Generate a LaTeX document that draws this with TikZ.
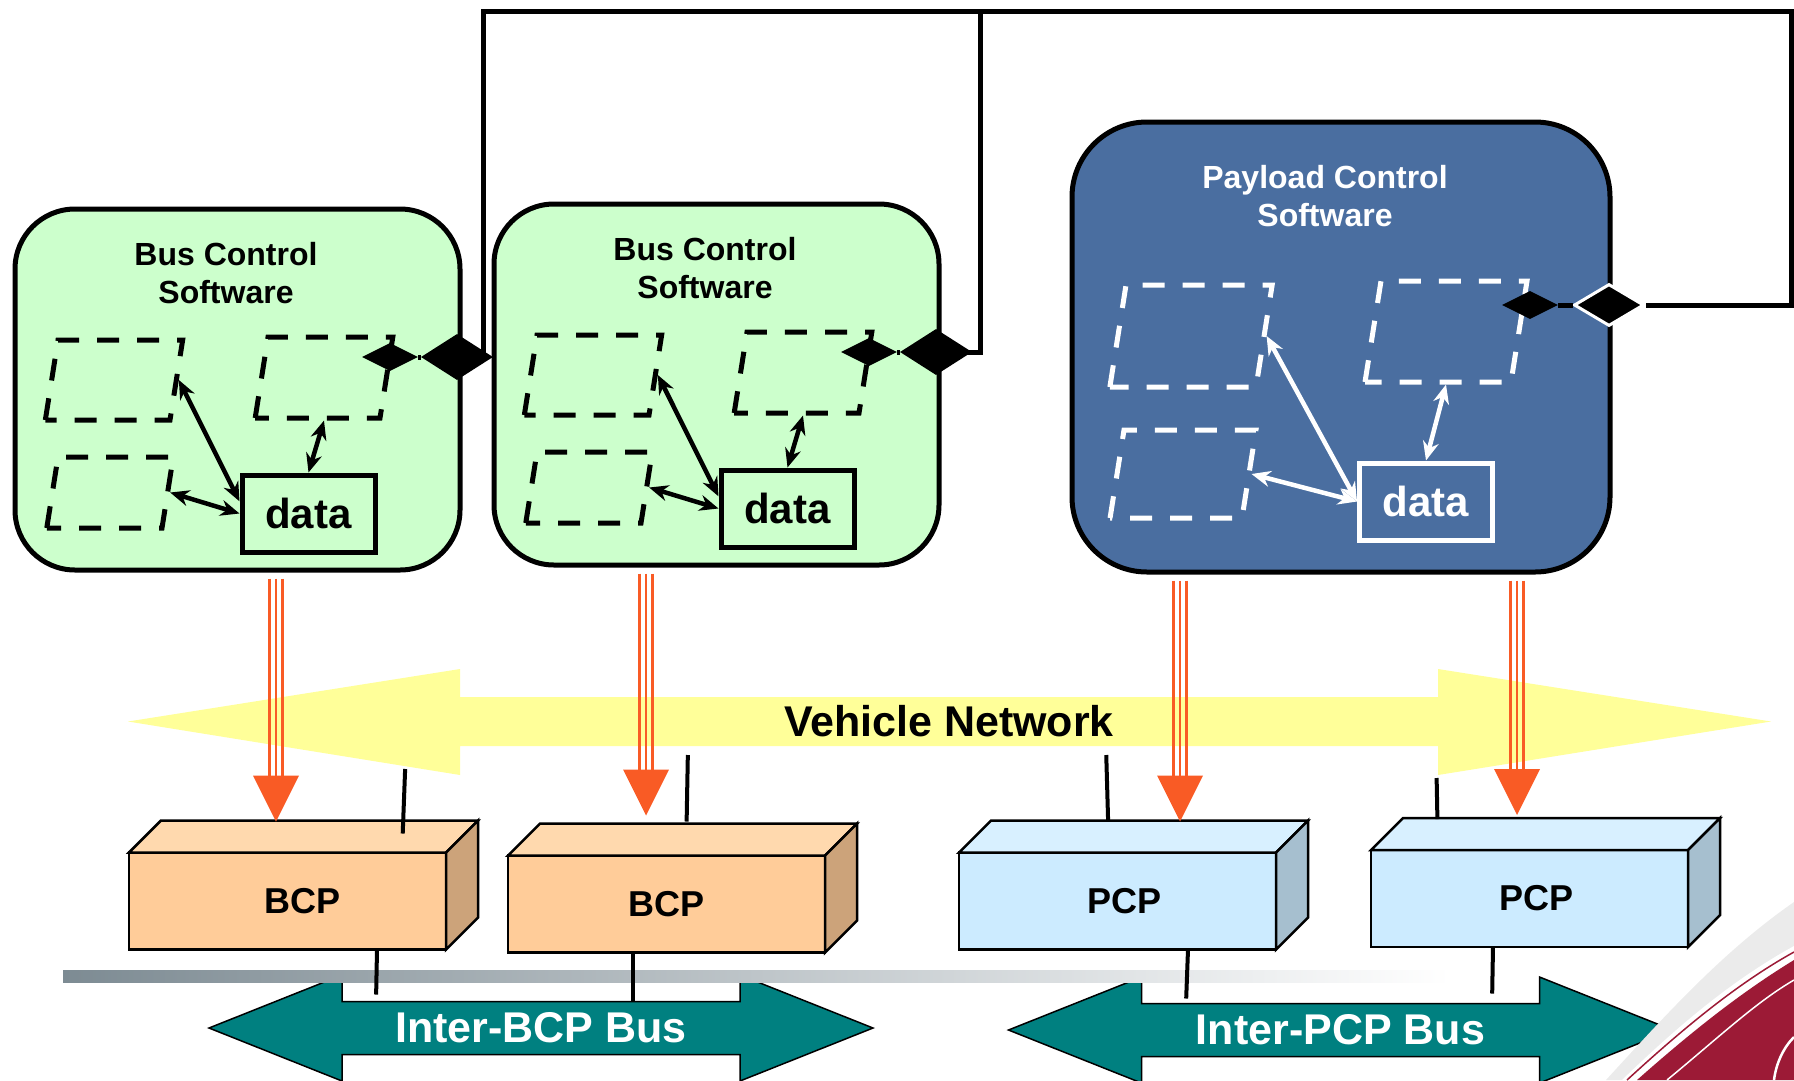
\documentclass[tikz,border=0pt]{standalone}
\usepackage{fontspec}
\setmainfont{Liberation Sans}
\usetikzlibrary{calc}
\usetikzlibrary{arrows.meta}
\usetikzlibrary{shapes.geometric}
\usetikzlibrary{backgrounds}
\definecolor{swgreen}{HTML}{CCFFCC}
\definecolor{pcsblue}{HTML}{4A6EA0}
\definecolor{netyellow}{HTML}{FFFF99}
\definecolor{feedorange}{HTML}{F95B25}
\definecolor{busteal}{HTML}{008080}
\definecolor{bcpfront}{HTML}{FFCC99}
\definecolor{bcptop}{HTML}{FFD9AE}
\definecolor{bcpside}{HTML}{CCA37A}
\definecolor{pcpfront}{HTML}{CCEBFF}
\definecolor{pcptop}{HTML}{D8F0FF}
\definecolor{pcpside}{HTML}{A6BFCF}
\definecolor{barslate}{HTML}{7D8B93}
\definecolor{logored}{HTML}{9C1A36}
\tikzset{
  swbox/.style={draw, line width=5pt, rounded corners=60pt, minimum width=445pt, minimum height=361pt},
  heading/.style={align=center, font=\bfseries\fontsize{32}{38}\selectfont},
  pane/.style={trapezium, trapezium left angle=81, trapezium right angle=99, line width=5pt, dash pattern=on 22pt off 18pt},
  datbox/.style={draw, line width=5pt, minimum width=133pt, minimum height=77pt, inner sep=0pt, font=\bfseries\fontsize{42}{46}\selectfont},
  link/.style={<->, >={Stealth[length=19pt,width=16pt]}, line width=4.5pt},
  tap/.style={diamond, fill=black, inner sep=0pt, minimum width=56pt, minimum height=28pt},
  port/.style={diamond, fill=black, inner sep=0pt, minimum width=72pt, minimum height=46pt},
  wire/.style={line width=5pt},
  cpu/.style={draw, line width=2.5pt, outer sep=0pt, minimum width=317pt, minimum height=97pt},
  cpulbl/.style={font=\bfseries\fontsize{36}{40}\selectfont},
  feed/.style={feedorange, line width=2.4pt},
  stub/.style={line width=4pt},
  netlbl/.style={outer sep=0pt, minimum width=978pt, minimum height=49pt, font=\bfseries\fontsize{43}{48}\selectfont},
  bus/.style={outer sep=0pt, minimum width=398pt, minimum height=53pt, text=white, font=\bfseries\fontsize{43}{48}\selectfont}
}
\begin{document}
\begin{tikzpicture}[x=1pt,y=-1pt]
\useasboundingbox (0,0) rectangle (1794,1080);

\foreach \i/\dx/\dy in {1/0/0,2/479/-5} {
 \begin{scope}[shift={(\dx,\dy)}]
 \node[swbox, fill=swgreen] (bcs\i) at (237.5,389.5) {};
 \node[heading] (lbl\i) at (226,273) {Bus Control\\Software};
 \node[pane, draw, inner xsep=56pt, inner ysep=40pt] (pa\i) at (114,380) {};
 \node[pane, draw, inner xsep=56pt, inner ysep=40.5pt] (pc\i) at (324,377.5) {};
 \node[pane, draw, inner xsep=52pt, inner ysep=35.5pt] (pb\i) at (110,492.5) {};
 \node[datbox] (data\i) at (308.5,513.5) {data};
 \draw[link] (pa\i.east) -- (data\i.170);
 \draw[link] (pb\i.east) -- (data\i.west);
 \draw[link] (pc\i.south) -- (data\i.north);
 \node[tap] (tap\i) at (390,357) {};
 \node[port] (port\i) at (457,357) {};
 \end{scope}
}

\node[swbox, fill=pcsblue, rounded corners=75pt, minimum width=538pt, minimum height=450pt] (pcs) at (1341,347) {};
\node[heading, text=white] (lbl3) at (1325,196) {Payload Control\\Software};
\node[pane, draw=white, inner xsep=65pt, inner ysep=51pt] (pa3) at (1191,336) {};
\node[pane, draw=white, inner xsep=65pt, inner ysep=50.5pt] (pc3) at (1446,331.5) {};
\node[pane, draw=white, inner xsep=59pt, inner ysep=44pt] (pb3) at (1183,474) {};
\node[datbox, draw=white, text=white] (data3) at (1426,501.5) {data};
\draw[link, white] (pa3.east) -- (data3.west);
\draw[link, white] (pb3.east) -- (data3.west);
\draw[link, white] (pc3.south) -- (data3.north);
\node[tap] (tap3) at (1530,305) {};
\node[port, draw=white, line width=3pt, minimum width=70pt, minimum height=42pt] (port3) at (1609,305) {};

\coordinate (k1) at (483,11);
\coordinate (k2) at (980,11);
\coordinate (k3) at (1791.5,11);
\draw[wire] (tap1.east) -- (port1.west);
\draw[wire] (tap2.east) -- (port2.west);
\draw[wire] (tap3.east) -- (port3.west);
\draw[wire] (port1.center) -| (k1) -- (k3) |- (port3.east);
\draw[wire] (port2.center) -| (k2);

\node[netlbl] (vnet) at (949,721.5) {Vehicle Network};

\node[cpu, fill=bcpfront] (bcp1) at (287.5,901) {};
\node[cpu, fill=bcpfront] (bcp2) at (666.5,904) {};
\node[cpu, fill=pcpfront] (pcp1) at (1117.5,901) {};
\node[cpu, fill=pcpfront] (pcp2) at (1529.5,898.5) {};
\foreach \n/\ft/\fs/\tx/\tt in {bcp1/bcptop/bcpside/15/BCP, bcp2/bcptop/bcpside/0/BCP, pcp1/pcptop/pcpside/7/PCP, pcp2/pcptop/pcpside/7/PCP} {
 \draw[line width=2.5pt, fill=\ft] (\n.north west) -- ++(32,-32) -- ($(\n.north east)+(32,-32)$) -- (\n.north east) -- cycle;
 \draw[line width=2.5pt, fill=\fs] (\n.north east) -- ++(32,-32) -- ($(\n.south east)+(32,-32)$) -- (\n.south east) -- cycle;
 \node[cpulbl] (\n txt) at ([xshift=\tx pt]\n.center) {\tt};
}

\foreach \nm/\cx/\cy/\txt in {ibcp/541/1028/Inter-BCP Bus, ipcp/1340.5/1030/Inter-PCP Bus} {
 \node[bus] (\nm) at (\cx,\cy) {\txt};
 \begin{scope}[on background layer]
 \draw[fill=busteal, line width=1.5pt] (\nm.north west) -- ++(0,-26.5) -- ($(\nm.west)+(-133,0)$) -- ($(\nm.south west)+(0,26.5)$) -- (\nm.south west) -- (\nm.south east) -- ++(0,26.5) -- ($(\nm.east)+(133,0)$) -- ($(\nm.north east)+(0,-26.5)$) -- (\nm.north east) -- cycle;
 \end{scope}
}

\begin{scope}[on background layer]
\shade[left color=barslate, right color=white] (63,970) rectangle (1450,982);
\fill[netyellow] (vnet.north west) -- ++(0,-28) -- ($(vnet.west)+(-332,0)$) -- ($(vnet.south west)+(0,29)$) -- (vnet.south west) -- (vnet.south east) -- ++(0,29) -- ($(vnet.east)+(333,0)$) -- ($(vnet.north east)+(0,-28)$) -- (vnet.north east) -- cycle;
\fill[black!8] (1606,1080) .. controls (1670,1010) and (1725,950) .. (1794,902) -- (1794,1080) -- cycle;
\fill[white] (1622,1080) .. controls (1684,1020) and (1736,978) .. (1794,946) -- (1794,1080) -- cycle;
\draw[logored, line width=1.5pt] (1627,1080) .. controls (1688,1024) and (1740,982) .. (1794,952);
\fill[logored] (1637,1080) .. controls (1698,1026) and (1745,990) .. (1794,960) -- (1794,1080) -- cycle;
\draw[white, line width=1.5pt] (1667,1080) .. controls (1718,1038) and (1756,1002) .. (1794,980);
\draw[white, line width=2.5pt] (1774,1080) .. controls (1776,1064) and (1783,1048) .. (1794,1037);
\end{scope}

\foreach \sw/\pu/\fx/\up in {bcs1/bcp1/276/31, bcs2/bcp2/646/40, pcs/pcp1/1180/31, pcs/pcp2/1517/35} {
 \coordinate (tip) at ($(\pu.north -| \fx,0)+(0,-\up)$);
 \foreach \d in {-6.5,0,6.5}
  \draw[feed, shorten <=6pt] ($(\sw.south -| \fx,0)+(\d,0)$) -- ($(tip)+(\d,-45)$);
 \fill[feedorange] (tip) -- ++(-23,-46) -- ++(46,0) -- cycle;
}

\foreach \n/\xt/\xb/\s/\e in {bcp1/406/402/23/19, bcp2/688/686/9/34, pcp1/1106/1109/9/31, pcp2/1436/1438/32/31}
 \draw[stub, shorten <=\s pt, shorten >=\e pt] (vnet.south -| \xt,0) -- (\n.north -| \xb,0);
\foreach \n/\bu/\xt/\xb/\e in {bcp1/ibcp/377/376/7, bcp2/ibcp/633/633/0, pcp1/ipcp/1188/1186/5, pcp2/ipcp/1493/1492/10}
 \draw[stub, shorten >=\e pt] (\n.south -| \xt,0) -- (\bu.north -| \xb,0);
\end{tikzpicture}
\end{document}
